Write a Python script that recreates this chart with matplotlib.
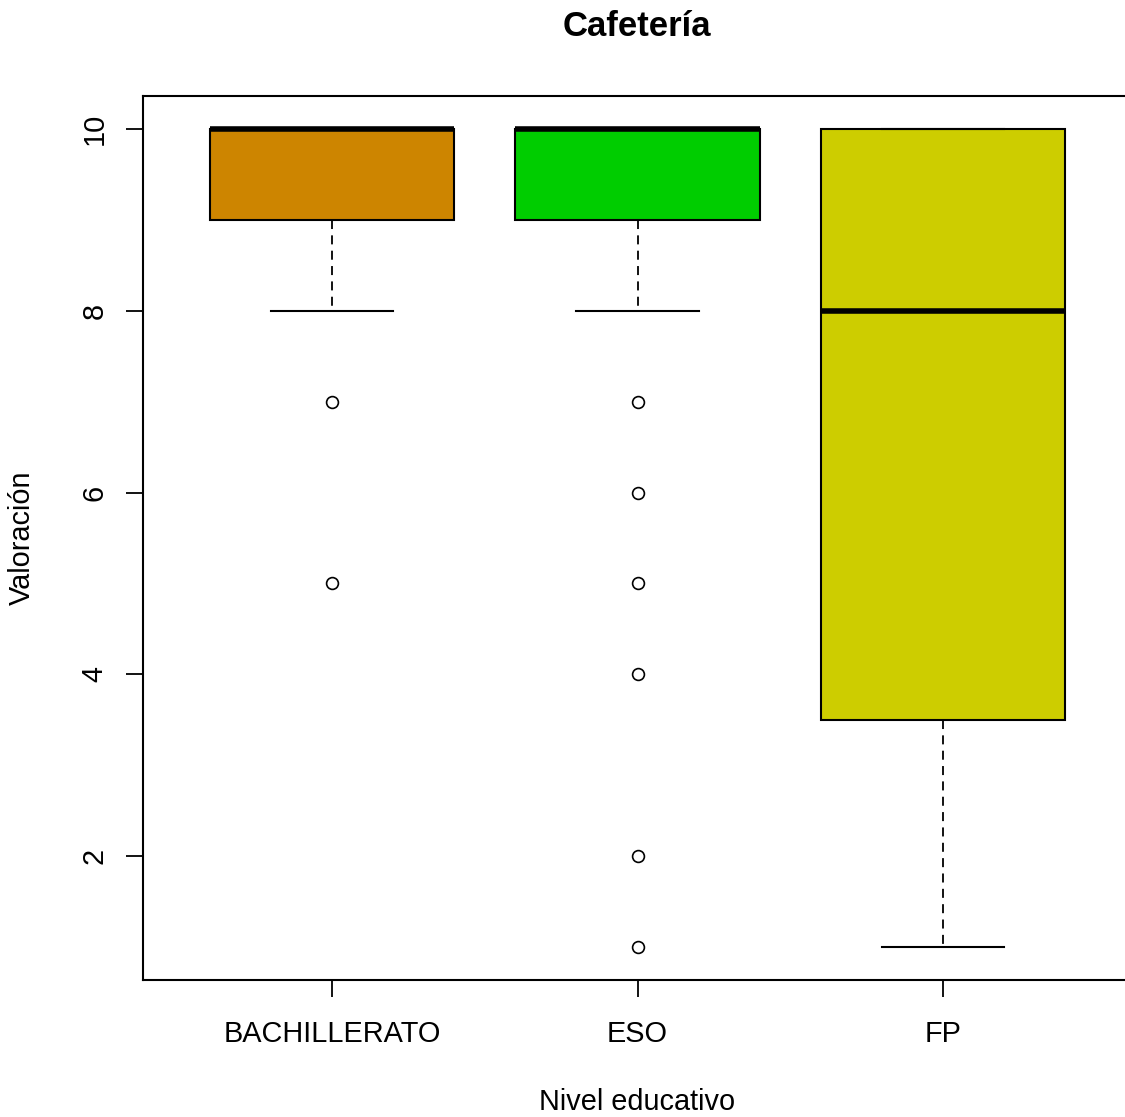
import matplotlib
matplotlib.use("Agg")
from matplotlib import pyplot as plt

plt.rcParams["font.family"] = ["Liberation Sans", "DejaVu Sans"]

# Box statistics
levels = ["BACHILLERATO", "ESO", "FP"]
q1 = [9, 9, 3.5]
medians = [10, 10, 8]
q3 = [10, 10, 10]
whisker_low = [8, 8, 1]
whisker_high = [10, 10, 10]
outliers = [[7, 5], [7, 6, 5, 4, 2, 1], []]
box_colours = ["#CD8500", "#00CD00", "#CDCD00"]

W, H = 1125, 1117
fig = plt.figure(figsize=(W / 100, H / 100), dpi=100)
# axes box in pixels: left 143, right ~1132 (cut off), top 96, bottom 980
ax = fig.add_axes([143 / W, 1 - 980 / H, (1132 - 143) / W, (980 - 96) / H])

stats = []
for i in range(len(levels)):
    stats.append({
        "label": levels[i],
        "q1": q1[i],
        "med": medians[i],
        "q3": q3[i],
        "whislo": whisker_low[i],
        "whishi": whisker_high[i],
        "fliers": outliers[i],
    })

bp = ax.bxp(
    stats,
    positions=[1, 2, 3],
    widths=0.8,
    capwidths=0.4,
    patch_artist=True,
    boxprops=dict(edgecolor="black", linewidth=1.5),
    medianprops=dict(color="black", linewidth=4, solid_capstyle="butt"),
    whiskerprops=dict(color="black", linewidth=1.3, linestyle=(0, (5, 3.5))),
    capprops=dict(color="black", linewidth=1.5),
    flierprops=dict(marker="o", markersize=8.5, markerfacecolor="white",
                    markeredgecolor="black", markeredgewidth=1.2),
)
for patch, c in zip(bp["boxes"], box_colours):
    patch.set_facecolor(c)

ax.set_xlim(0.38, 3.62)
ax.set_ylim(0.64, 10.36)
ax.set_yticks([2, 4, 6, 8, 10])
ax.set_yticklabels(["2", "4", "6", "8", "10"], rotation=90, va="center")
ax.set_xticks([1, 2, 3])
ax.set_xticklabels(levels)
ax.tick_params(axis="both", length=12, width=1.3, labelsize=20.8, colors="black")
ax.tick_params(axis="y", pad=13)
ax.tick_params(axis="x", pad=17)
for s in ax.spines.values():
    s.set_linewidth(1.5)

fig.text(637 / W, 1 - 27 / H, "Cafetería", ha="center", va="center",
         fontsize=25, fontweight="bold")
fig.text(637 / W, 1 - 1102 / H, "Nivel educativo", ha="center", va="center",
         fontsize=20.8)
fig.text(22 / W, 1 - 538 / H, "Valoración", ha="center", va="center",
         rotation=90, fontsize=20.8)

fig.savefig("out.png", dpi=100)
